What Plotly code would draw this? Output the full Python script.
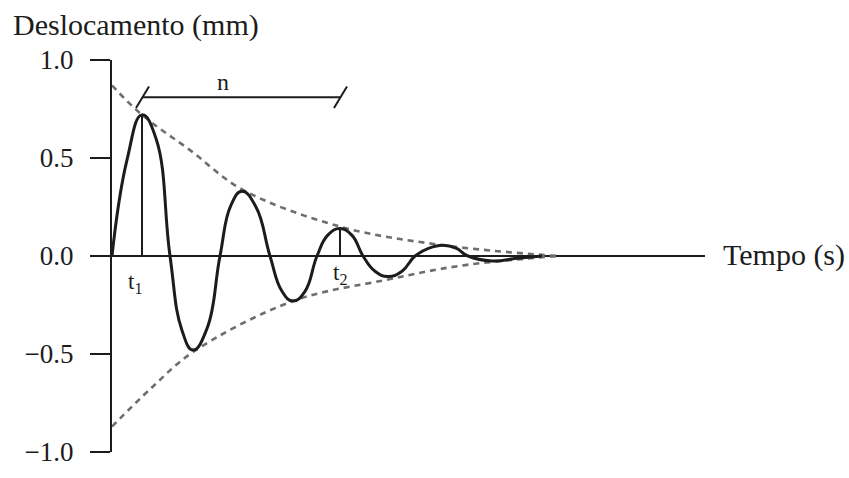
import plotly.graph_objects as go

# Damped free vibration record: time (s) and displacement (mm)
t_curve = [0.00, 0.15, 0.30, 0.44, 0.58, 0.70, 0.81, 0.95, 1.08, 1.19,
           1.30, 1.44, 1.58, 1.70, 1.81, 1.93, 2.05, 2.16, 2.28, 2.40,
           2.51, 2.63, 2.76, 2.90, 3.03, 3.17, 3.31, 3.44, 3.56, 3.80,
           4.05, 4.30]
d_curve = [0.00, 0.49, 0.72, 0.60, 0.00, -0.38, -0.48, -0.37, 0.00, 0.26,
           0.33, 0.25, 0.00, -0.18, -0.23, -0.18, 0.00, 0.108, 0.14, 0.105,
           0.00, -0.078, -0.105, -0.078, 0.00, 0.04, 0.055, 0.04, 0.00, -0.025,
           -0.012, 0.00]

# Decay envelopes (upper through the peaks, lower through the troughs)
t_env_up = [0.00, 0.30, 0.78, 1.30, 2.28, 3.31, 4.45]
d_env_up = [0.87, 0.72, 0.54, 0.34, 0.15, 0.055, 0.00]
t_env_lo = [0.00, 0.38, 0.81, 1.81, 2.76, 3.48, 4.45]
d_env_lo = [-0.87, -0.68, -0.49, -0.23, -0.12, -0.05, 0.00]

# Marked peaks t1 and t2, n cycles apart
t_marks = [0.30, 2.28]
d_marks = [0.72, 0.14]
mark_labels = ["t<sub>1</sub>", "t<sub>2</sub>"]

y_ticks = [-1.0, -0.5, 0.0, 0.5, 1.0]
y_ticktext = ["\u22121.0", "\u22120.5", "0.0", "0.5", "1.0"]

T_MAX = 5.93
INK = "#1c1c1c"
SERIF = "Liberation Serif, Times New Roman, serif"

fig = go.Figure()

for t_env, d_env in ((t_env_up, d_env_up), (t_env_lo, d_env_lo)):
    fig.add_trace(go.Scatter(x=t_env, y=d_env, mode="lines",
                             line=dict(color="#6e6e6e", width=2.6, dash="6px,5px",
                                       shape="spline"),
                             hoverinfo="skip"))
fig.add_trace(go.Scatter(x=t_curve, y=d_curve, mode="lines",
                         line=dict(color=INK, width=3, shape="spline", smoothing=1.3),
                         hoverinfo="skip"))

shapes = []
# vertical lines from the marked peaks down to the time axis
for tm, dm in zip(t_marks, d_marks):
    shapes.append(dict(type="line", xref="x", yref="y", x0=tm, x1=tm, y0=0, y1=dm,
                       line=dict(color=INK, width=2)))

# bracket spanning n cycles between t1 and t2
n_level = 0.81
shapes.append(dict(type="line", xref="x", yref="y", x0=t_marks[0], x1=t_marks[1],
                   y0=n_level, y1=n_level, line=dict(color=INK, width=2)))
for tm in t_marks:
    shapes.append(dict(type="line", xref="x", yref="y", x0=tm - 0.06, x1=tm + 0.07,
                       y0=n_level - 0.055, y1=n_level + 0.055, line=dict(color=INK, width=2)))

annotations = [
    dict(text="n", xref="x", yref="y", x=1.11, y=n_level, yanchor="bottom",
         showarrow=False, font=dict(family=SERIF, size=24, color=INK)),
    dict(text="Deslocamento (mm)", xref="paper", yref="paper", x=0, y=1,
         xanchor="left", yanchor="middle", xshift=-101, yshift=35, showarrow=False,
         font=dict(family=SERIF, size=30, color=INK)),
    dict(text="Tempo (s)", xref="paper", yref="y", x=1, y=0,
         xanchor="left", yanchor="middle", xshift=16, yshift=1, showarrow=False,
         font=dict(family=SERIF, size=30, color=INK)),
]
for tm, lab, dx, dy in zip(t_marks, mark_labels, [-0.07, 0.0], [-0.14, -0.09]):
    annotations.append(dict(text=lab, xref="x", yref="y", x=tm + dx, y=dy,
                            xanchor="center", yanchor="middle", showarrow=False,
                            font=dict(family=SERIF, size=23, color=INK)))

fig.update_layout(
    width=849, height=478,
    margin=dict(l=112, r=144, t=60, b=26),
    paper_bgcolor="#ffffff", plot_bgcolor="#ffffff",
    showlegend=False,
    shapes=shapes,
    annotations=annotations,
    xaxis=dict(range=[0, T_MAX], visible=False, showgrid=False, zeroline=False),
    yaxis=dict(range=[-1.0, 1.0], tickvals=y_ticks, ticktext=y_ticktext,
               showline=True, linecolor=INK, linewidth=2,
               ticks="outside", ticklen=20, tickwidth=2, tickcolor=INK,
               ticklabelstandoff=11,
               showgrid=False, zeroline=True, zerolinecolor=INK, zerolinewidth=2,
               tickfont=dict(family=SERIF, size=27, color=INK)),
)

fig.write_html("out.html")
